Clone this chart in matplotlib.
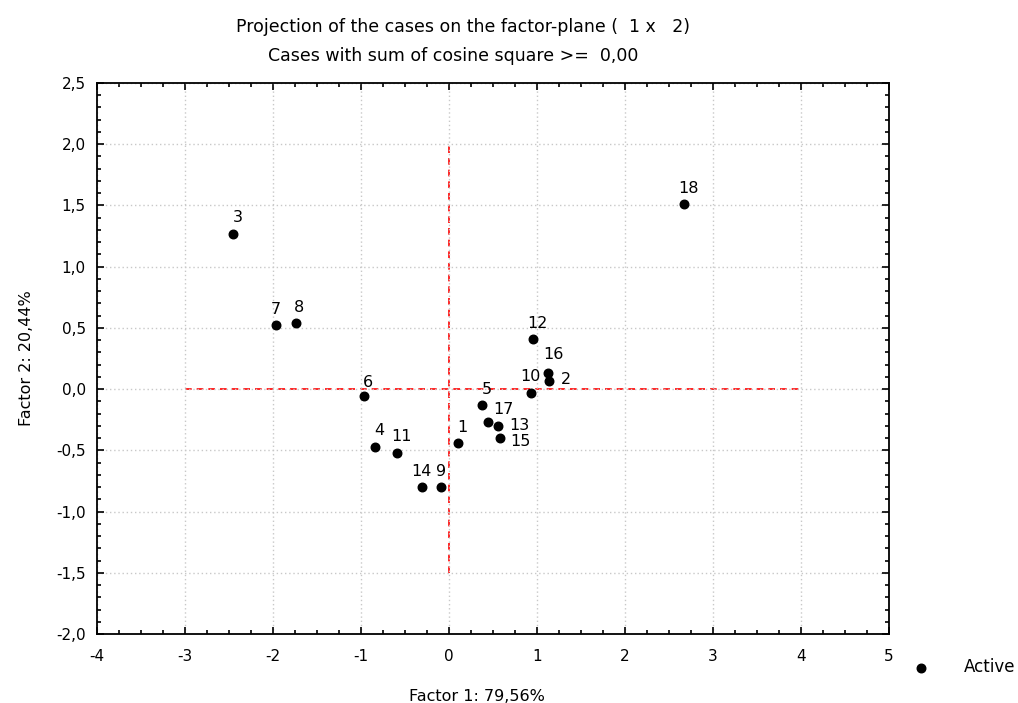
import matplotlib.pyplot as plt
from matplotlib.ticker import MultipleLocator, FuncFormatter

plt.rcParams['font.family'] = ['DejaVu Sans']
plt.rcParams['axes.unicode_minus'] = False

# case labels and factor coordinates
cases = ['1', '2', '3', '4', '5', '6', '7', '8', '9', '10',
         '11', '12', '13', '14', '15', '16', '17', '18']
factor1 = [0.10, 1.14, -2.45, -0.84, 0.38, -0.97, -1.97, -1.74, -0.09, 0.93,
           -0.59, 0.96, 0.56, -0.31, 0.58, 1.125, 0.44, 2.67]
factor2 = [-0.44, 0.07, 1.27, -0.47, -0.13, -0.06, 0.52, 0.54, -0.80, -0.03,
           -0.52, 0.41, -0.30, -0.80, -0.40, 0.13, -0.27, 1.51]

# label offsets in points (most labels sit above their point)
offsets = {'2': (12, -5), '13': (15, -5), '15': (15, -8), '17': (11, 4),
           '16': (4, 8), '10': (0, 6), '11': (3, 6), '4': (3, 6),
           '14': (0, 6), '9': (0, 6), '8': (2, 6), '7': (0, 6), '6': (3, 5)}

fig = plt.figure(figsize=(10.18, 7.03), dpi=100)
ax = fig.add_axes([97 / 1018, 1 - 634 / 703, 792 / 1018, 551 / 703])

ax.plot([-3, 4], [0, 0], color='#ff0000', lw=1.2, ls=(0, (4, 3)), zorder=1)
ax.plot([0, 0], [-1.5, 2.0], color='#ff0000', lw=1.2, ls=(0, (4, 3)), zorder=1)

ax.scatter(factor1, factor2, s=38, color='black', zorder=3, label='Active')
for name, x, y in zip(cases, factor1, factor2):
    dx, dy = offsets.get(name, (3, 6))
    ax.annotate(name, (x, y), xytext=(dx, dy), textcoords='offset points',
                ha='center', va='bottom', fontsize=11.5)

ax.set_xlim(-4, 5)
ax.set_ylim(-2.0, 2.5)
ax.xaxis.set_major_locator(MultipleLocator(1))
ax.xaxis.set_minor_locator(MultipleLocator(0.25))
ax.yaxis.set_major_locator(MultipleLocator(0.5))
ax.yaxis.set_minor_locator(MultipleLocator(0.1))
ax.yaxis.set_major_formatter(FuncFormatter(lambda v, p: f'{v:.1f}'.replace('.', ',')))
ax.tick_params(which='both', direction='in', top=True, right=True, labelsize=11)
ax.tick_params(which='major', length=5, width=1.2, pad=8)
ax.tick_params(axis='x', which='major', pad=11)
ax.tick_params(which='minor', length=3, width=1.2)
ax.grid(which='major', color='#c8c8c8', ls=(0, (1, 2)), lw=1)
for sp in ax.spines.values():
    sp.set_linewidth(1.3)

ax.set_xlabel('Factor 1: 79,56%', fontsize=11.5)
ax.xaxis.set_label_coords(0.48, -0.1)
ax.set_ylabel('Factor 2: 20,44%', fontsize=11.5, labelpad=16)
fig.text(0.455, 0.962, 'Projection of the cases on the factor-plane (  1 x   2)',
         ha='center', va='center', fontsize=12.5)
fig.text(0.445, 0.92, 'Cases with sum of cosine square >=  0,00',
         ha='center', va='center', fontsize=12.5)

ax.legend(loc='center left', bbox_to_anchor=(1.0, -0.06), frameon=False,
          fontsize=12, handletextpad=1.6, markerscale=1.0)

fig.savefig('out.png', dpi=100)
